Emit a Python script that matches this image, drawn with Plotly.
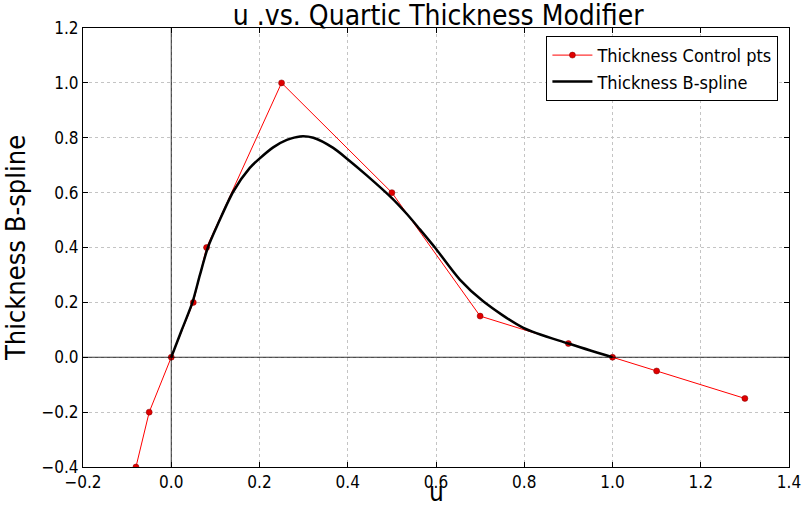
import plotly.graph_objects as go

ctrl_u = [-0.08, -0.05, 0.0, 0.05, 0.08, 0.25, 0.5, 0.7, 0.9, 1.0, 1.1, 1.3]
ctrl_t = [-0.4, -0.2, 0.0, 0.2, 0.4, 1.0, 0.6, 0.15, 0.05, 0.0, -0.05, -0.15]

curve_u = [0.0, 0.024, 0.048, 0.065, 0.083, 0.107, 0.141, 0.178, 0.2, 0.231, 0.262, 0.292,
           0.322, 0.367, 0.401, 0.443, 0.5, 0.534, 0.564, 0.598, 0.654, 0.707, 0.798, 0.9, 1.0]
curve_t = [0.0, 0.1, 0.2, 0.3, 0.4, 0.49, 0.605, 0.69, 0.724, 0.765, 0.792, 0.805,
           0.8, 0.763, 0.72, 0.663, 0.58, 0.522, 0.465, 0.399, 0.283, 0.204, 0.107, 0.05, 0.0]

FONT = "DejaVu Sans Condensed, DejaVu Sans, sans-serif"

fig = go.Figure()
fig.add_trace(go.Scatter(
    x=ctrl_u, y=ctrl_t, mode="lines+markers", name="Thickness Control pts",
    line=dict(color="red", width=1),
    marker=dict(color="#e00000", size=6, line=dict(color="#800000", width=0.5)),
))
fig.add_trace(go.Scatter(
    x=curve_u, y=curve_t, mode="lines", name="Thickness B-spline",
    line=dict(color="black", width=2.5, shape="spline", smoothing=0.8),
))

fig.add_shape(type="line", xref="x", yref="paper", x0=0, x1=0, y0=0, y1=1,
              line=dict(color="black", width=0.8), layer="above")
fig.add_shape(type="line", xref="paper", yref="y", x0=0, x1=1, y0=0, y1=0,
              line=dict(color="black", width=0.8), layer="above")

fig.add_annotation(text="u", xref="paper", yref="paper", x=0.5, y=-0.0957,
                   xanchor="center", yanchor="bottom", showarrow=False,
                   font=dict(family=FONT, size=26, color="black"))

axis_common = dict(
    showline=True, linecolor="black", linewidth=1, mirror="ticks",
    ticks="inside", ticklen=5, tickcolor="black", automargin=False,
    showgrid=True, gridcolor="#c4c4c4", griddash="dot", gridwidth=1,
    zeroline=False, tickfont=dict(family=FONT, size=17, color="black"),
)

fig.update_layout(
    width=804, height=509,
    margin=dict(l=83, r=15, t=28, b=42),
    paper_bgcolor="white", plot_bgcolor="white",
    title=dict(text="u .vs. Quartic Thickness Modifier", x=0.545, xanchor="center",
               y=0.99, yanchor="top", font=dict(family=FONT, size=28, color="black")),
    xaxis=dict(range=[-0.2, 1.4], dtick=0.2, tickformat=".1f", **axis_common),
    yaxis=dict(range=[-0.4, 1.2], dtick=0.2, tickformat=".1f",
               title=dict(text="Thickness B-spline", font=dict(family=FONT, size=27, color="black"), standoff=10),
               **axis_common),
    legend=dict(x=0.985, y=0.982, xanchor="right", yanchor="top",
                bgcolor="white", bordercolor="black", borderwidth=1, itemwidth=40,
                font=dict(family=FONT, size=18, color="black")),
    showlegend=True,
)

fig.write_html("out.html")
